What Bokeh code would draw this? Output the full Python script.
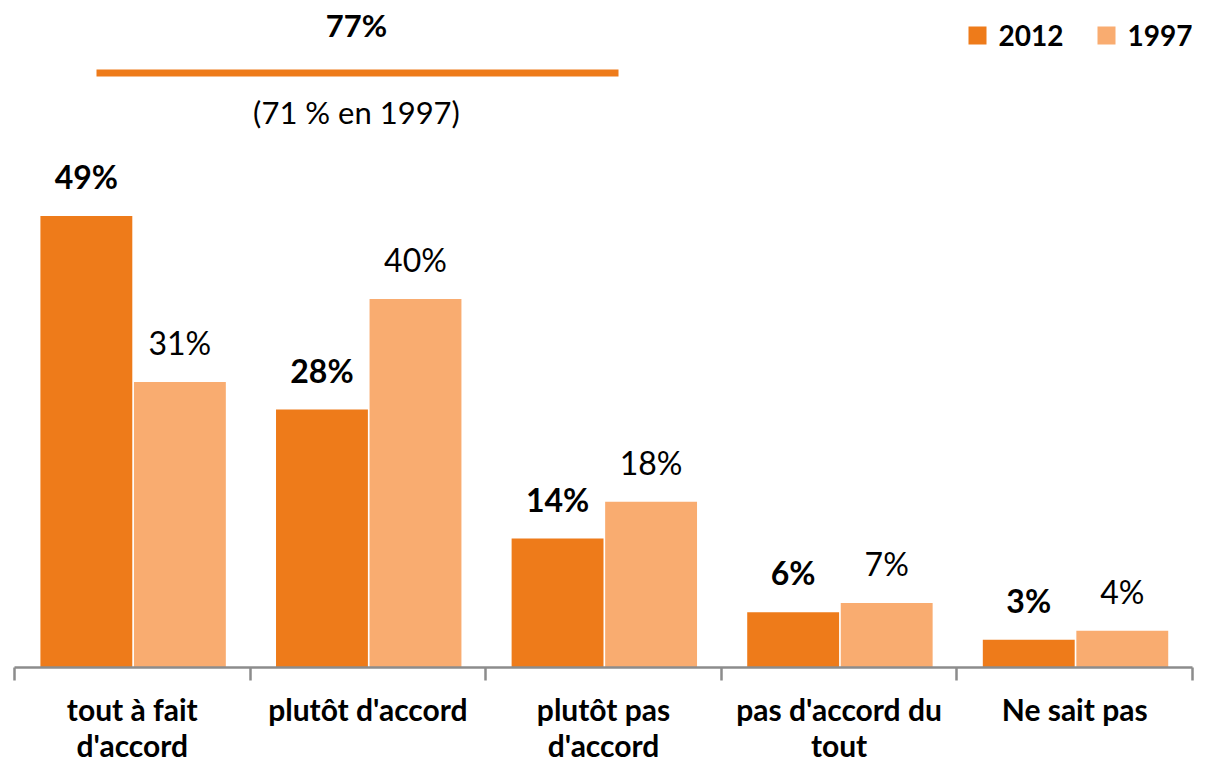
from bokeh.plotting import figure
from bokeh.models import Range1d, FixedTicker, ColumnDataSource, LabelSet, Label, BoxAnnotation
from bokeh.core.properties import value
from bokeh.transform import dodge
from bokeh.embed import file_html
from bokeh.resources import INLINE

categories = ["tout à fait\nd'accord", "plutôt d'accord", "plutôt pas\nd'accord",
              "pas d'accord du\ntout", "Ne sait pas"]
values_2012 = [49, 28, 14, 6, 3]
values_1997 = [31, 40, 18, 7, 4]
series = ["2012", "1997"]
total_text = "77%"
total_note = "(71 % en 1997)"

C2012 = "#EE7B1A"
C1997 = "#F9AC70"
AXIS = "#8C8C8C"
FONT = "Lato"

n = len(categories)
p = figure(frame_width=1178, frame_height=667, x_range=Range1d(0, n), y_range=Range1d(0, 72.4),
           output_backend="svg", toolbar_location=None,
           min_border_left=14, min_border_right=3, min_border_top=0, min_border_bottom=0)
p.outline_line_color = None
p.xgrid.visible = False
p.ygrid.visible = False
p.yaxis.visible = False
p.background_fill_color = "white"
p.border_fill_color = "white"

xc = [i + 0.5 for i in range(n)]
src = ColumnDataSource(dict(x=xc, v12=values_2012, v97=values_1997,
                            l12=[f"{v}%" for v in values_2012],
                            l97=[f"{v}%" for v in values_1997]))

OFF12, OFF97, W = -0.195, 0.202, 0.39
p.vbar(x=dodge("x", OFF12), top="v12", width=W, source=src,
       fill_color=C2012, line_color=None)
p.vbar(x=dodge("x", OFF97), top="v97", width=W, source=src,
       fill_color=C1997, line_color=None)

p.add_layout(LabelSet(x=dodge("x", OFF12), y="v12", text="l12", source=src,
                      y_offset=27, text_align="center", text_baseline="alphabetic",
                      text_font=value(FONT), text_font_style="bold", text_font_size="32px",
                      text_color="black"))
p.add_layout(LabelSet(x=dodge("x", OFF97), y="v97", text="l97", source=src,
                      y_offset=27, text_align="center", text_baseline="alphabetic",
                      text_font=value(FONT), text_font_style="normal", text_font_size="32px",
                      text_color="black"))

ax = p.xaxis[0]
ax.ticker = FixedTicker(ticks=xc, minor_ticks=list(range(n + 1)))
ax.major_label_overrides = {x: c for x, c in zip(xc, categories)}
ax.major_tick_line_color = None
ax.major_tick_out = 0
ax.major_tick_in = 0
ax.minor_tick_line_color = AXIS
ax.minor_tick_line_width = 2.5
ax.minor_tick_out = 13
ax.minor_tick_in = 0
ax.axis_line_color = AXIS
ax.axis_line_width = 2.5
ax.major_label_standoff = 10
ax.major_label_text_font = FONT
ax.major_label_text_font_style = "bold"
ax.major_label_text_font_size = "30px"
ax.major_label_text_color = "black"
ax.major_label_text_line_height = 1.0

# top annotation (frame-relative screen units)
p.add_layout(Label(x=342, y=643, x_units="screen", y_units="screen", text=total_text,
                   text_align="center", text_baseline="middle", text_font=FONT,
                   text_font_style="bold", text_font_size="31px", text_color="black"))
p.add_layout(BoxAnnotation(left=82, right=604, bottom=591, top=598,
                           left_units="screen", right_units="screen",
                           bottom_units="screen", top_units="screen",
                           fill_color=C2012, fill_alpha=1, line_color=None))
p.add_layout(Label(x=342, y=556, x_units="screen", y_units="screen", text=total_note,
                   text_align="center", text_baseline="middle", text_font=FONT,
                   text_font_style="normal", text_font_size="31px", text_color="black"))

# legend (kept inside the 1195px canvas)
legend_x = [954, 1083]
for name, col, x0 in zip(series, [C2012, C1997], legend_x):
    p.add_layout(BoxAnnotation(left=x0, right=x0 + 18, bottom=623, top=641,
                               left_units="screen", right_units="screen",
                               bottom_units="screen", top_units="screen",
                               fill_color=col, fill_alpha=1, line_color=None))
    p.add_layout(Label(x=x0 + 30, y=632, x_units="screen", y_units="screen", text=name,
                       text_align="left", text_baseline="middle", text_font=FONT,
                       text_font_style="bold", text_font_size="28px", text_color="black"))

open("out.html", "w").write(file_html(p, INLINE))
